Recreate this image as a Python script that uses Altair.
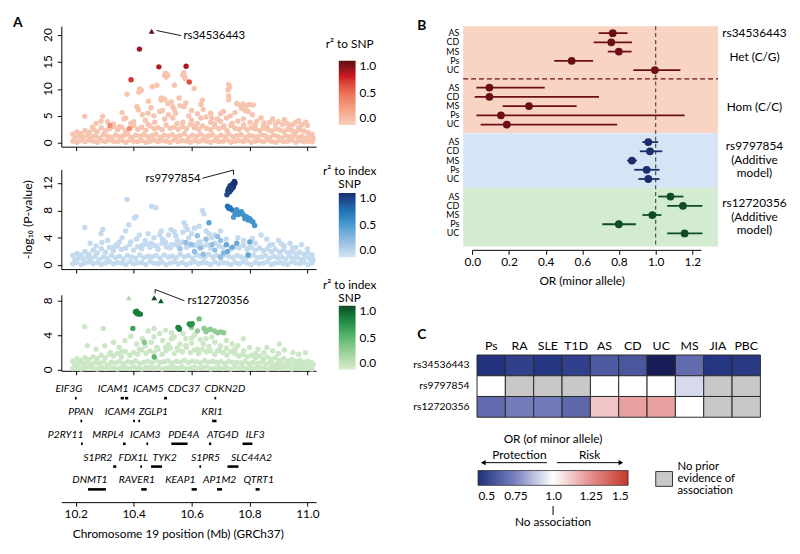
import altair as alt
import pandas as pd

FONT = "Lato"
XDOM = [10.15, 11.03]
XTICKS = [10.2, 10.4, 10.6, 10.8, 11.0]
BG_R2 = 0.06

# ---------------- Panel A: SNP positions (Mb) of the dense low band ----------------
band_x = [10.19, 10.204, 10.218, 10.232, 10.246, 10.26, 10.274, 10.288, 10.302, 10.316,
          10.33, 10.344, 10.358, 10.372, 10.386, 10.4, 10.414, 10.428, 10.442, 10.456,
          10.47, 10.484, 10.498, 10.512, 10.526, 10.54, 10.554, 10.568, 10.582, 10.596,
          10.61, 10.624, 10.638, 10.652, 10.666, 10.68, 10.694, 10.708, 10.722, 10.736,
          10.75, 10.764, 10.778, 10.792, 10.806, 10.82, 10.834, 10.848, 10.862, 10.876,
          10.89, 10.904, 10.918, 10.932, 10.946, 10.96, 10.974, 10.988, 11.002, 11.016]
band_x2 = [10.197, 10.211, 10.225, 10.239, 10.253, 10.267, 10.281, 10.295, 10.309, 10.323,
           10.337, 10.351, 10.365, 10.379, 10.393, 10.407, 10.421, 10.435, 10.449, 10.463,
           10.477, 10.491, 10.505, 10.519, 10.533, 10.547, 10.561, 10.575, 10.589, 10.603,
           10.617, 10.631, 10.645, 10.659, 10.673, 10.687, 10.701, 10.715, 10.729, 10.743,
           10.757, 10.771, 10.785, 10.799, 10.813, 10.827, 10.841, 10.855, 10.869, 10.883,
           10.897, 10.911, 10.925, 10.939, 10.953, 10.967, 10.981, 10.995, 11.009, 11.02]

a1_lo = [0.3, 0.1, 0.4, 0.2, 0.5, 0.3, 0.1, 0.4, 0.2, 0.5, 0.3, 0.2, 0.4, 0.1, 0.5, 0.3, 0.2, 0.4, 0.1, 0.3,
         0.5, 0.2, 0.4, 0.3, 0.1, 0.5, 0.2, 0.4, 0.3, 0.1, 0.4, 0.2, 0.5, 0.3, 0.1, 0.4, 0.2, 0.3, 0.5, 0.1,
         0.3, 0.4, 0.2, 0.5, 0.1, 0.3, 0.4, 0.2, 0.5, 0.3, 0.1, 0.4, 0.2, 0.3, 0.5, 0.1, 0.4, 0.2, 0.3, 0.2]
a1_mid = [0.9, 1.2, 1.0, 1.4, 1.1, 1.3, 0.9, 1.5, 1.2, 1.0, 1.4, 1.1, 1.3, 1.6, 1.0, 1.4, 1.2, 1.5, 1.1, 1.3,
          1.6, 1.0, 1.4, 1.2, 1.5, 1.1, 1.3, 1.7, 1.0, 1.4, 1.2, 1.6, 1.1, 1.3, 1.5, 1.0, 1.4, 1.2, 1.6, 1.1,
          1.3, 1.5, 1.0, 1.4, 1.2, 1.1, 1.5, 1.3, 1.0, 1.4, 1.2, 0.9, 1.3, 1.1, 1.4, 1.0, 1.2, 0.9, 1.1, 0.8]
a1_hi = [1.6, 2.0, 1.7, 2.3, 1.9, 2.5, 2.1, 2.8, 2.2, 2.6, 3.0, 2.4, 2.9, 2.2, 2.7, 3.2, 2.5, 2.9, 2.3, 3.1,
         2.6, 2.8, 2.4, 3.3, 2.7, 2.9, 2.5, 3.0, 2.6, 3.4, 2.8, 2.5, 3.1, 2.7, 2.4, 3.0, 2.6, 2.9, 2.3, 3.2,
         2.7, 2.5, 2.9, 2.4, 2.8, 2.6, 2.3, 2.7, 2.5, 2.2, 2.6, 2.4, 2.1, 2.5, 2.3, 2.0, 2.4, 2.2, 1.9, 1.6]

a2_lo = [0.2, 0.4, 0.1, 0.3, 0.5, 0.2, 0.4, 0.1, 0.3, 0.5, 0.2, 0.4, 0.3, 0.1, 0.5, 0.2, 0.3, 0.4, 0.1, 0.5,
         0.3, 0.2, 0.4, 0.1, 0.3, 0.5, 0.2, 0.4, 0.1, 0.3, 0.5, 0.2, 0.4, 0.3, 0.1, 0.5, 0.2, 0.4, 0.3, 0.1,
         0.4, 0.2, 0.5, 0.3, 0.1, 0.4, 0.2, 0.3, 0.5, 0.1, 0.3, 0.4, 0.2, 0.1, 0.5, 0.3, 0.2, 0.4, 0.1, 0.3]
a2_mid = [0.8, 1.1, 0.9, 1.2, 1.0, 1.3, 0.8, 1.2, 1.0, 1.4, 1.1, 1.3, 0.9, 1.4, 1.2, 1.0, 1.5, 1.1, 1.3, 1.2,
          1.4, 1.0, 1.5, 1.2, 1.3, 1.1, 1.6, 1.2, 1.4, 1.0, 1.5, 1.3, 1.1, 1.6, 1.2, 1.4, 1.0, 1.5, 1.3, 1.1,
          1.4, 1.2, 1.0, 1.3, 1.5, 1.1, 1.2, 1.4, 1.0, 1.3, 1.1, 1.2, 0.9, 1.3, 1.0, 1.1, 0.8, 1.2, 0.9, 0.8]
a2_hi = [1.4, 1.7, 1.5, 2.0, 1.6, 2.2, 1.8, 2.4, 1.9, 2.6, 2.1, 2.8, 2.3, 2.5, 3.0, 2.2, 2.7, 2.4, 3.1, 2.6,
         2.9, 2.3, 3.2, 2.7, 2.5, 3.0, 2.8, 3.4, 2.6, 3.1, 2.9, 3.3, 2.7, 3.0, 2.5, 3.2, 2.8, 2.6, 3.0, 2.4,
         2.7, 2.5, 2.9, 2.3, 2.6, 2.2, 2.5, 2.1, 2.4, 2.0, 2.3, 1.9, 2.2, 1.8, 2.0, 1.7, 1.9, 1.6, 1.8, 1.5]

a3_lo = [0.15, 0.3, 0.1, 0.25, 0.35, 0.2, 0.1, 0.3, 0.15, 0.35, 0.2, 0.1, 0.3, 0.25, 0.15, 0.35, 0.2, 0.1, 0.3, 0.25,
         0.15, 0.35, 0.1, 0.2, 0.3, 0.25, 0.15, 0.35, 0.1, 0.2, 0.3, 0.15, 0.25, 0.35, 0.1, 0.2, 0.3, 0.15, 0.25, 0.1,
         0.35, 0.2, 0.3, 0.1, 0.25, 0.15, 0.35, 0.2, 0.1, 0.3, 0.25, 0.15, 0.2, 0.35, 0.1, 0.3, 0.2, 0.15, 0.25, 0.1]
a3_mid = [0.6, 0.8, 0.7, 0.9, 0.65, 0.85, 0.75, 0.95, 0.6, 0.9, 0.8, 1.0, 0.7, 0.95, 0.85, 1.05, 0.75, 0.9, 1.0, 0.8,
          1.1, 0.85, 0.95, 1.05, 0.8, 1.0, 0.9, 1.1, 0.85, 1.0, 0.95, 0.8, 1.05, 0.9, 1.0, 0.85, 0.95, 0.75, 1.0, 0.85,
          0.9, 0.8, 0.95, 0.7, 0.85, 0.75, 0.9, 0.7, 0.8, 0.65, 0.75, 0.6, 0.7, 0.65, 0.8, 0.6, 0.7, 0.55, 0.65, 0.6]
a3_hi = [1.0, 1.3, 1.1, 1.4, 1.2, 1.5, 1.3, 1.7, 1.4, 1.8, 1.6, 1.9, 1.5, 2.1, 1.7, 2.0, 1.8, 2.3, 1.9, 2.2,
         2.0, 2.4, 1.8, 2.2, 2.5, 1.9, 2.3, 2.1, 2.6, 2.0, 2.3, 1.9, 2.4, 2.1, 2.2, 1.8, 2.3, 2.0, 1.7, 2.1,
         1.9, 1.6, 1.8, 1.5, 1.7, 1.4, 1.6, 1.3, 1.5, 1.2, 1.4, 1.1, 1.3, 1.0, 1.2, 1.0, 1.1, 0.9, 1.0, 0.8]

# scattered low-r2 SNPs above the band: (Mb, -log10 P)
a1_bg = [(10.231, 4.9), (10.293, 4.9), (10.287, 4.0), (10.258, 2.9), (10.372, 4.6), (10.366, 4.4), (10.377, 9.0),
         (10.411, 6.7), (10.416, 6.1), (10.42, 10.0), (10.423, 9.6), (10.418, 9.4), (10.426, 9.8), (10.45, 5.5),
         (10.451, 7.7), (10.464, 10.4), (10.48, 10.7), (10.473, 3.8), (10.495, 8.3), (10.495, 7.9), (10.507, 12.5),
         (10.51, 12.9), (10.513, 12.2), (10.518, 12.6), (10.507, 8.1), (10.507, 4.4), (10.518, 7.3), (10.535, 6.7),
         (10.54, 6.2), (10.545, 5.5), (10.541, 10.7), (10.535, 4.6), (10.557, 8.3), (10.57, 12.6), (10.573, 13.0),
         (10.576, 12.3), (10.578, 11.9), (10.574, 6.7), (10.57, 3.8), (10.609, 10.1), (10.632, 4.6), (10.632, 7.1),
         (10.637, 7.9), (10.61, 3.1), (10.666, 5.5), (10.666, 3.8), (10.689, 4.4), (10.712, 3.1), (10.728, 10.8),
         (10.731, 10.3), (10.726, 9.8), (10.728, 8.7), (10.728, 8.0), (10.734, 5.0), (10.756, 7.3), (10.767, 7.0),
         (10.778, 7.2), (10.79, 6.9), (10.8, 7.1), (10.813, 7.0), (10.772, 6.4), (10.785, 6.0), (10.795, 5.8),
         (10.779, 4.4), (10.802, 3.8), (10.825, 4.0), (10.848, 3.1), (10.87, 3.8), (10.89, 3.5), (10.915, 3.4),
         (10.938, 3.1), (10.96, 3.8), (10.97, 2.8), (10.994, 3.8), (11.0, 3.2), (10.33, 3.5), (10.35, 3.0),
         (10.39, 3.6), (10.44, 4.2), (10.46, 6.5), (10.47, 5.0), (10.49, 5.8), (10.52, 5.2), (10.55, 3.6),
         (10.59, 5.0), (10.6, 6.0), (10.62, 5.4), (10.65, 4.8), (10.68, 3.5), (10.7, 4.0), (10.72, 4.6),
         (10.74, 3.6), (10.76, 4.0), (10.82, 3.4), (10.86, 3.0), (10.9, 3.9), (10.93, 3.6), (10.95, 3.4), (10.98, 3.3),
         (10.4, 3.9), (10.43, 5.2), (10.5, 6.0), (10.53, 7.6), (10.56, 6.9), (10.58, 7.4), (10.6, 4.2), (10.64, 6.2),
         (10.67, 4.6), (10.7, 5.4), (10.75, 5.6), (10.81, 5.2), (10.84, 4.6), (10.88, 4.4), (10.92, 4.3), (10.97, 4.1),
         (10.36, 5.6), (10.31, 3.9), (10.27, 3.6), (10.45, 3.4), (10.62, 3.6), (10.71, 5.8), (10.78, 3.3), (10.85, 3.7)]
a1_hl = [(10.42, 17.4, 0.85), (10.487, 14.1, 0.8), (10.581, 14.2, 0.82), (10.391, 11.7, 0.7),
         (10.592, 11.3, 0.62), (10.318, 3.2, 0.35), (10.385, 2.6, 0.35)]
a1_tri = [(10.462, 20.7, 1.0)]

a2_bg = [(10.377, 9.6), (10.462, 8.6), (10.477, 8.4), (10.408, 7.1), (10.402, 6.9), (10.231, 5.5), (10.293, 5.2),
         (10.372, 5.0), (10.287, 4.6), (10.383, 5.9), (10.637, 8.0), (10.643, 7.5), (10.574, 6.2), (10.58, 5.7),
         (10.586, 5.2), (10.529, 5.2), (10.495, 5.0), (10.45, 4.6), (10.546, 4.3), (10.626, 5.7), (10.66, 4.6),
         (10.25, 3.2), (10.31, 3.6), (10.34, 3.0), (10.36, 4.0), (10.39, 3.4), (10.42, 4.4), (10.44, 3.6),
         (10.47, 4.0), (10.5, 3.8), (10.52, 4.4), (10.55, 3.6), (10.57, 4.8), (10.6, 4.6), (10.61, 5.4),
         (10.65, 5.0), (10.68, 4.4), (10.7, 5.0), (10.76, 4.0), (10.78, 3.6), (10.82, 3.2), (10.84, 4.4),
         (10.86, 3.8), (10.88, 3.0), (10.9, 3.6), (10.92, 2.8), (10.94, 3.2), (10.96, 2.6), (10.98, 3.0),
         (11.0, 2.4), (10.27, 2.8), (10.33, 2.6), (10.48, 2.8), (10.53, 3.0), (10.59, 2.8), (10.75, 2.8), (10.8, 2.6),
         (10.35, 3.4), (10.41, 3.8), (10.46, 3.2), (10.49, 4.4), (10.51, 3.4), (10.54, 4.9), (10.56, 3.2),
         (10.59, 4.0), (10.63, 3.4), (10.67, 4.0), (10.72, 3.8), (10.81, 3.9), (10.87, 2.9), (10.91, 3.1),
         (10.29, 3.3), (10.43, 2.9), (10.52, 2.6), (10.62, 2.9), (10.78, 2.9), (10.95, 2.5)]
a2_hl = [(10.748, 12.24, 1.0), (10.742, 11.9, 0.95), (10.733, 11.6, 0.95), (10.728, 11.2, 0.92), (10.739, 11.2, 0.95),
         (10.725, 10.9, 0.9), (10.736, 11.0, 0.92), (10.722, 10.3, 0.9), (10.746, 11.7, 0.97), (10.75, 12.0, 0.98),
         (10.731, 10.7, 0.9), (10.744, 11.4, 0.95),
         (10.724, 8.6, 0.72), (10.728, 8.3, 0.72), (10.733, 8.4, 0.7), (10.739, 8.1, 0.68),
         (10.756, 8.1, 0.55), (10.761, 7.4, 0.55), (10.767, 7.6, 0.55), (10.772, 7.8, 0.55), (10.778, 7.4, 0.55),
         (10.784, 6.8, 0.55), (10.79, 7.1, 0.55), (10.795, 6.6, 0.55), (10.801, 6.8, 0.55), (10.806, 6.5, 0.55),
         (10.812, 6.3, 0.55), (10.818, 5.8, 0.55), (10.75, 7.5, 0.55), (10.745, 7.0, 0.5),
         (10.66, 6.2, 0.45), (10.756, 3.2, 0.4), (10.795, 1.5, 0.45), (10.724, 2.0, 0.4), (10.801, 3.4, 0.4),
         (10.72, 3.0, 0.4), (10.74, 2.6, 0.4),
         (10.6, 3.0, 0.25), (10.63, 2.5, 0.25), (10.68, 2.2, 0.25), (10.7, 3.6, 0.25), (10.65, 3.8, 0.25),
         (10.62, 4.3, 0.25), (10.58, 3.3, 0.25), (10.71, 1.8, 0.3), (10.69, 4.2, 0.25), (10.64, 1.6, 0.25),
         (10.61, 2.0, 0.25), (10.67, 3.0, 0.25), (10.56, 2.4, 0.2), (10.7, 1.2, 0.25)]
a2_tri = []

a3_bg = [(10.231, 5.0), (10.295, 4.8), (10.39, 3.9), (10.779, 3.6), (10.903, 3.0), (10.993, 2.0), (10.45, 4.5),
         (10.47, 4.8), (10.49, 4.2), (10.51, 4.6), (10.53, 4.3), (10.54, 3.8), (10.57, 4.2), (10.58, 3.6),
         (10.61, 4.0), (10.63, 3.5), (10.67, 3.8), (10.72, 3.4), (10.74, 3.0), (10.76, 2.8), (10.8, 2.6),
         (10.83, 2.4), (10.86, 2.6), (10.88, 2.2), (10.92, 2.3), (10.95, 2.0), (10.97, 1.8), (10.3, 2.8),
         (10.33, 3.2), (10.35, 2.6), (10.37, 3.4), (10.41, 3.0), (10.43, 3.6), (10.46, 3.2), (10.5, 3.4),
         (10.52, 2.9), (10.56, 3.0), (10.6, 3.1), (10.64, 3.0), (10.66, 2.7), (10.7, 2.8), (10.27, 2.4),
         (10.24, 2.8), (10.42, 2.4), (10.48, 2.6), (10.55, 2.5), (10.62, 2.4), (10.69, 2.2), (10.72, 2.5),
         (10.78, 2.2), (10.82, 1.9),
         (10.4, 2.0), (10.44, 2.8), (10.47, 3.8), (10.51, 2.6), (10.53, 3.6), (10.58, 2.8), (10.6, 3.7),
         (10.65, 3.6), (10.68, 3.2), (10.71, 2.0), (10.75, 2.4), (10.85, 2.0), (10.9, 1.9), (10.36, 2.1), (10.32, 2.0)]
a3_hl = [(10.406, 6.7, 0.82), (10.41, 6.8, 0.82), (10.414, 6.6, 0.82), (10.418, 6.5, 0.82), (10.423, 6.45, 0.82),
         (10.412, 6.5, 0.82), (10.553, 4.9, 0.78), (10.558, 4.7, 0.78), (10.556, 4.85, 0.78),
         (10.592, 5.3, 0.72), (10.597, 5.2, 0.72), (10.602, 5.35, 0.72), (10.397, 4.8, 0.62), (10.626, 5.9, 0.42),
         (10.643, 4.8, 0.32), (10.655, 4.6, 0.32), (10.665, 4.7, 0.32), (10.68, 4.5, 0.32), (10.69, 4.3, 0.32),
         (10.7, 4.4, 0.32), (10.711, 4.3, 0.32), (10.65, 4.4, 0.32), (10.437, 3.2, 0.35), (10.471, 1.5, 0.5),
         (10.62, 4.5, 0.28), (10.6, 4.9, 0.28)]
a3_tri = [(10.383, 8.34, 0.18), (10.471, 8.34, 1.0), (10.494, 8.0, 0.95)]

# index SNP label leaders: (Mb, P) -> (Mb, P)
a1_lines = [(10.479, 20.85, 10.564, 19.9)]
a1_label = ("rs34536443", 10.572, 19.9, "left")
a2_lines = [(10.637, 12.7, 10.745, 13.9), (10.745, 13.9, 10.745, 13.2)]
a2_label = ("rs9797854", 10.631, 12.6, "right")
a3_lines = [(10.474, 9.3, 10.474, 8.85), (10.474, 9.3, 10.575, 8.0)]
a3_label = ("rs12720356", 10.586, 8.0, "left")

# ---------------- gene track ----------------
gene_name = ["EIF3G", "ICAM1", "ICAM5", "CDC37", "CDKN2D",
             "PPAN", "ICAM4", "ZGLP1", "KRI1",
             "P2RY11", "MRPL4", "ICAM3", "PDE4A", "ATG4D", "ILF3",
             "S1PR2", "FDX1L", "TYK2", "S1PR5", "SLC44A2",
             "DNMT1", "RAVER1", "KEAP1", "AP1M2", "QTRT1"]
gene_row = [1, 1, 1, 1, 1, 2, 2, 2, 2, 3, 3, 3, 3, 3, 3, 4, 4, 4, 4, 4, 5, 5, 5, 5, 5]
gene_label_mb = [10.176, 10.329, 10.451, 10.573, 10.715,
                 10.217, 10.353, 10.468, 10.671,
                 10.165, 10.312, 10.44, 10.573, 10.708, 10.82,
                 10.276, 10.399, 10.507, 10.648, 10.807,
                 10.249, 10.411, 10.561, 10.697, 10.832]
gene_start = [10.197, 10.355, 10.370, 10.505, 10.679,
              10.216, 10.398, 10.416, 10.671,
              10.218, 10.363, 10.444, 10.53, 10.66, 10.776,
              10.329, 10.423, 10.46, 10.627, 10.724,
              10.242, 10.426, 10.6, 10.688, 10.821]
gene_end = [10.203, 10.366, 10.381, 10.515, 10.685,
            10.222, 10.404, 10.422, 10.686,
            10.224, 10.372, 10.45, 10.586, 10.668, 10.81,
            10.34, 10.429, 10.498, 10.633, 10.762,
            10.304, 10.445, 10.618, 10.705, 10.835]

# ---------------- Panel B: odds ratios ----------------
b_dis = ["AS", "CD", "MS", "Ps", "UC"]
het_or = [0.766, 0.758, 0.799, 0.542, 0.996]
het_lo = [0.689, 0.662, 0.739, 0.447, 0.878]
het_hi = [0.847, 0.871, 0.869, 0.659, 1.135]
hom_or = [0.093, 0.093, 0.309, 0.156, 0.188]
hom_lo = [0.022, 0.013, 0.165, 0.022, 0.045]
hom_hi = [0.395, 0.691, 0.569, 1.158, 0.790]
r979_or = [0.960, 0.969, 0.871, 0.951, 0.960]
r979_lo = [0.928, 0.914, 0.844, 0.883, 0.906]
r979_hi = [1.014, 1.036, 0.898, 1.021, 1.021]
r127_or = [1.081, 1.149, 0.982, 0.799, 1.158]
r127_lo = [1.014, 1.063, 0.928, 0.709, 1.063]
r127_hi = [1.152, 1.255, 1.032, 0.892, 1.255]
b_colors = ["#6a0f17", "#6a0f17", "#1b2d6b", "#0e4c27"]
b_side_text = ["rs34536443", "Het (C/G)", "Hom (C/C)", "rs9797854", "(Additive", "model)",
               "rs12720356", "(Additive", "model)"]
b_side_row = [0.0, 2.64, 7.96, 12.24, 13.76, 15.12, 18.36, 19.89, 21.36]
GAP = 5.9

# ---------------- Panel C: heatmap ----------------
c_snps = ["rs34536443", "rs9797854", "rs12720356"]
c_dis = ["Ps", "RA", "SLE", "T1D", "AS", "CD", "UC", "MS", "JIA", "PBC"]
c_or = [[0.51, 0.55, 0.52, 0.55, 0.63, 0.62, 0.43, 0.68, 0.52, 0.53],
        [1.0, None, None, None, 1.0, 1.0, 1.0, 0.925, None, None],
        [0.68, 0.73, 0.72, 0.67, 1.13, 1.21, 1.21, 1.0, None, None]]
c_scale_dom = [0.4, 0.5, 0.75, 1.0, 1.25, 1.5]
c_scale_rng = ["#15164c", "#1e2f7c", "#7b83c1", "#ffffff", "#e48f8f", "#c4382b"]


def blank():
    return alt.Chart(pd.DataFrame({"a": [0]}))


def spacer(y):
    return blank().mark_rule(opacity=0).encode(x=alt.value(0), y=alt.value(y), y2=alt.value(y + 1))


def snp_frame(bands, bg, hl):
    xs, ps, rs = [], [], []
    for bx_, row in bands:
        xs += bx_
        ps += row
        rs += [BG_R2] * len(row)
    for x, p in bg:
        xs.append(x); ps.append(p); rs.append(BG_R2)
    for x, p, r in hl:
        xs.append(x); ps.append(p); rs.append(r)
    return pd.DataFrame({"pos": xs, "p": ps, "r2": rs}).sort_values("r2", kind="stable")


def assoc_panel(df, tri, ydom, h, yticks, colors, leg_y, leg_title, leg_title_y, lines, label,
                ytitle=None, letter=None, space=None):
    xsc = alt.Scale(domain=XDOM, nice=False, zero=False)
    ysc = alt.Scale(domain=ydom, nice=False, zero=False)
    xax = alt.Axis(values=XTICKS, labels=False, tickSize=4, title=None, grid=False)
    ykw = dict(values=yticks, labels=False, tickSize=4, grid=False)
    if ytitle:
        ykw.update(title=ytitle, titleFontSize=12.5, titleFontWeight="normal", titlePadding=23)
    else:
        ykw.update(title=None)
    yax = alt.Axis(**ykw)
    cs = alt.Scale(domain=[0, 0.5, 0.75, 1], range=colors)
    leg = alt.Legend(orient="none", legendX=281, legendY=leg_y, direction="vertical", title=None,
                     gradientLength=65, gradientThickness=17, values=[0, 0.5, 1], format=".1f",
                     labelFontSize=12, labelOffset=4, gradientStrokeWidth=0)
    X = lambda f: alt.X(f, scale=xsc, axis=xax)
    Y = lambda f: alt.Y(f, scale=ysc, axis=yax)
    layers = []
    if space is not None:
        layers.append(spacer(space))
    layers.append(alt.Chart(df).mark_circle(size=30, opacity=1).encode(
        x=X("pos:Q"), y=Y("p:Q"), color=alt.Color("r2:Q", scale=cs, legend=leg)))
    if tri:
        tdf = pd.DataFrame(tri, columns=["pos", "p", "r2"]).sort_values("r2")
        layers.append(alt.Chart(tdf).mark_point(shape="triangle-up", filled=True, size=34, opacity=1).encode(
            x=X("pos:Q"), y=Y("p:Q"), color=alt.Color("r2:Q", scale=cs, legend=leg)))
    # rotated y tick labels
    layers.append(alt.Chart(pd.DataFrame({"p": yticks})).mark_text(
        angle=270, align="center", baseline="middle", fontSize=12).encode(
        x=alt.value(-13), y=Y("p:Q"), text=alt.Text("p:Q", format="d")))
    ldf = pd.DataFrame(lines, columns=["pos", "p", "pos2", "p2"])
    layers.append(alt.Chart(ldf).mark_rule(color="black", strokeWidth=0.9).encode(
        x=X("pos:Q"), y=Y("p:Q"), x2="pos2:Q", y2="p2:Q"))
    t, tx, ty, al = label
    layers.append(alt.Chart(pd.DataFrame({"pos": [tx], "p": [ty], "t": [t]})).mark_text(
        align=al, baseline="middle", fontSize=11.5).encode(x=X("pos:Q"), y=Y("p:Q"), text="t:N"))
    layers.append(alt.Chart(pd.DataFrame({"t": [leg_title]})).mark_text(
        align="center", baseline="top", fontSize=12, lineBreak="\n", lineHeight=13).encode(
        x=alt.value(292), y=alt.value(leg_title_y), text="t:N"))
    if letter:
        layers.append(alt.Chart(pd.DataFrame({"t": [letter]})).mark_text(
            fontSize=14, fontWeight="bold", align="center", baseline="middle").encode(
            x=alt.value(-44), y=alt.value(-3), text="t:N"))
    return alt.layer(*layers).properties(width=258, height=h)


a1 = assoc_panel(snp_frame([(band_x, a1_lo), (band_x2, a1_mid), (band_x, a1_hi)], a1_bg, a1_hl), a1_tri,
                 [-0.73, 21.65], 122, [0, 5, 10, 15, 20], ["#f8cfbd", "#ec6f55", "#cf1b24", "#5e0f10"], 35,
                 "r² to SNP", 13, a1_lines, a1_label, letter="A")
a2 = assoc_panel(snp_frame([(band_x, a2_lo), (band_x2, a2_mid), (band_x, a2_hi)], a2_bg, a2_hl), a2_tri,
                 [-0.58, 14.0], 101, [0, 4, 8, 12], ["#d2e3f3", "#4b9bd1", "#1f6db3", "#1b2f6e"], 24,
                 "r² to index\nSNP", -3, a2_lines, a2_label, ytitle="-log₁₀ (P-value)", space=-14)
a3 = assoc_panel(snp_frame([(band_x, a3_lo), (band_x2, a3_mid), (band_x, a3_hi)], a3_bg, a3_hl), a3_tri,
                 [-0.11, 8.69], 77, [0, 4, 8], ["#d8edd2", "#5cb86f", "#208f45", "#0b4d23"], 11,
                 "r² to index\nSNP", -15, a3_lines, a3_label, space=-17)

genes = pd.DataFrame({"gene": gene_name, "row": gene_row, "lab": gene_label_mb,
                      "start": gene_start, "end": gene_end})
gsc = alt.Scale(domain=XDOM, nice=False, zero=False)
gys = alt.Scale(domain=[0.19, 5.56], reverse=True, nice=False, zero=False)
gax = alt.Axis(values=XTICKS, format=".1f", tickSize=4, labelFontSize=12, labelPadding=3,
               title="Chromosome 19 position (Mb) (GRCh37)", titleFontSize=12, titleFontWeight="normal",
               titlePadding=9, titleX=118, grid=False)
gene_bars = alt.Chart(genes).mark_rule(strokeWidth=2.6, color="black").encode(
    x=alt.X("start:Q", scale=gsc, axis=gax), x2="end:Q", y=alt.Y("row:Q", scale=gys, axis=None))
gene_text = alt.Chart(genes).mark_text(fontStyle="italic", fontSize=10.5, dy=-9, baseline="middle").encode(
    x=alt.X("lab:Q", scale=gsc, axis=gax), y=alt.Y("row:Q", scale=gys, axis=None), text="gene:N")
gene_chart = alt.layer(gene_bars, gene_text).properties(width=258, height=124)

left = alt.vconcat(a1, a2, a3, gene_chart, spacing=4).resolve_scale(
    x="independent", y="independent", color="independent")

# ---------------- Panel B chart ----------------
rows = []
for g, (o, lo, hi) in enumerate([(het_or, het_lo, het_hi), (hom_or, hom_lo, hom_hi),
                                  (r979_or, r979_lo, r979_hi), (r127_or, r127_lo, r127_hi)]):
    for i, d in enumerate(b_dis):
        rows.append({"dis": d, "row": g * GAP + i, "or": o[i], "lo": lo[i], "hi": hi[i], "col": b_colors[g]})
fdf = pd.DataFrame(rows)
BW, BH = 258, 223
bx = alt.Scale(domain=[-0.05, 1.34], nice=False, zero=False)
by = alt.Scale(domain=[-0.75, 23.1], reverse=True, nice=False, zero=False)
bxax = alt.Axis(values=[0, 0.2, 0.4, 0.6, 0.8, 1.0, 1.2], format=".1f", domain=False, tickSize=4, offset=4,
                labelFontSize=12, title="OR (minor allele)", titleFontSize=12, titleFontWeight="normal",
                titlePadding=9, titleX=120, grid=False)
BX = lambda f: alt.X(f, scale=bx, axis=bxax)
BY = lambda f: alt.Y(f, scale=by, axis=None)
bg_df = pd.DataFrame({"y1": [-0.75, 2 * GAP - 0.95, 3 * GAP - 0.95],
                      "y2": [2 * GAP - 0.95, 3 * GAP - 0.95, 23.1],
                      "c": ["#f9d4c3", "#d5e5f5", "#d3ebd0"]})
f_bg = alt.Chart(bg_df).mark_rect().encode(
    x=alt.value(0), x2=alt.value(BW), y=BY("y1:Q"), y2="y2:Q", color=alt.Color("c:N", scale=None))
f_sep = alt.Chart(pd.DataFrame({"row": [GAP - 0.95]})).mark_rule(
    color="#6a0f17", strokeDash=[5, 3], strokeWidth=1.2).encode(x=alt.value(0), x2=alt.value(BW), y=BY("row:Q"))
f_one = alt.Chart(pd.DataFrame({"or": [1.0]})).mark_rule(
    color="#555555", strokeDash=[4, 3], strokeWidth=1.3).encode(x=BX("or:Q"), y=alt.value(0), y2=alt.value(BH))
f_ci = alt.Chart(fdf).mark_rule(strokeWidth=1.8).encode(
    x=BX("lo:Q"), x2="hi:Q", y=BY("row:Q"), color=alt.Color("col:N", scale=None))
f_pt = alt.Chart(fdf).mark_circle(size=62, opacity=1).encode(
    x=BX("or:Q"), y=BY("row:Q"), color=alt.Color("col:N", scale=None))
f_axis = alt.Chart(pd.DataFrame({"a": [0.0], "b": [1.25]})).mark_rule(color="black", strokeWidth=1).encode(
    x=BX("a:Q"), x2="b:Q", y=alt.value(BH + 4))
f_rowlab = alt.Chart(fdf).mark_text(align="right", baseline="middle", fontSize=9).encode(
    x=alt.value(-4), y=BY("row:Q"), text="dis:N")
f_side = alt.Chart(pd.DataFrame({"row": b_side_row, "t": b_side_text})).mark_text(
    align="center", baseline="middle", fontSize=12).encode(x=alt.value(295), y=BY("row:Q"), text="t:N")
f_letter = alt.Chart(pd.DataFrame({"t": ["B"]})).mark_text(
    fontSize=14, fontWeight="bold", baseline="middle").encode(x=alt.value(-42), y=alt.value(-0.5), text="t:N")
forest = alt.layer(f_bg, f_sep, f_one, f_ci, f_pt, f_axis, f_rowlab, f_side, f_letter).properties(
    width=BW, height=BH)

# ---------------- Panel C chart ----------------
hm_rows = []
for s, vals in zip(c_snps, c_or):
    for d, v in zip(c_dis, vals):
        hm_rows.append({"snp": s, "dis": d, "val": v})
hm = pd.DataFrame(hm_rows)
hx = alt.X("dis:N", sort=c_dis, scale=alt.Scale(range=[14, 301], paddingInner=0, paddingOuter=0),
           axis=alt.Axis(orient="top", title=None, ticks=False, domain=False, labelAngle=0,
                         labelFontSize=12.5, labelPadding=3))
hy = alt.Y("snp:N", sort=c_snps, scale=alt.Scale(paddingInner=0, paddingOuter=0),
           axis=alt.Axis(title=None, ticks=False, domain=False, labelFontSize=10.5, labelPadding=-6))
h_cells = alt.Chart(hm).transform_filter("isValid(datum.val)").mark_rect(
    stroke="#2a2a2a", strokeWidth=1).encode(
    x=hx, y=hy, color=alt.Color("val:Q", scale=alt.Scale(domain=c_scale_dom, range=c_scale_rng,
                                                          interpolate="rgb", nice=False, zero=False,
                                                          clamp=True), legend=None))
h_na = alt.Chart(hm).transform_filter("!isValid(datum.val)").mark_rect(
    stroke="#2a2a2a", strokeWidth=1, fill="#c8c8c8").encode(x=hx, y=hy)
h_letter = alt.Chart(pd.DataFrame({"t": ["C"]})).mark_text(
    fontSize=14, fontWeight="bold", baseline="middle").encode(x=alt.value(-42), y=alt.value(-20), text="t:N")
heat = alt.layer(spacer(-59), h_cells, h_na, h_letter).properties(width=302, height=63)

# ---------------- colour bar legend ----------------
cbx = alt.Scale(domain=[0.5, 1.5], range=[15, 167], nice=False, zero=False)
cbax = alt.Axis(values=[0.5, 0.75, 1.0, 1.25, 1.5],
                labelExpr="datum.value == 1 ? '1.0' : format(datum.value, '.2~f')", domain=False, ticks=False,
                labelPadding=5, labelFontSize=12, title=None, grid=False)
CX = lambda f: alt.X(f, scale=cbx, axis=cbax)
grad = alt.Gradient(gradient="linear", x1=0, x2=1, y1=0, y2=0,
                    stops=[alt.GradientStop(color="#1e2f7c", offset=0),
                           alt.GradientStop(color="#7b83c1", offset=0.25),
                           alt.GradientStop(color="#ffffff", offset=0.5),
                           alt.GradientStop(color="#e48f8f", offset=0.75),
                           alt.GradientStop(color="#c4382b", offset=1)])
cb_bar = alt.Chart(pd.DataFrame({"lo": [0.5], "hi": [1.5]})).mark_rect(
    fill=grad, stroke="#333333", strokeWidth=0.8).encode(x=CX("lo:Q"), x2="hi:Q", y=alt.value(0), y2=alt.value(15))


def cb_text(v, y, t, size=12):
    return alt.Chart(pd.DataFrame({"v": [v], "t": [t]})).mark_text(
        fontSize=size, baseline="middle", align="center").encode(x=CX("v:Q"), y=alt.value(y), text="t:N")


cb_arrows = alt.Chart(pd.DataFrame({"a": [0.959, 1.026], "b": [0.535, 1.452]})).mark_rule(
    color="black", strokeWidth=1).encode(x=CX("a:Q"), x2="b:Q", y=alt.value(-8))
cb_head_l = alt.Chart(pd.DataFrame({"v": [0.535]})).mark_point(
    shape="triangle-left", filled=True, size=30, color="black", opacity=1).encode(x=CX("v:Q"), y=alt.value(-8))
cb_head_r = alt.Chart(pd.DataFrame({"v": [1.452]})).mark_point(
    shape="triangle-right", filled=True, size=30, color="black", opacity=1).encode(x=CX("v:Q"), y=alt.value(-8))
cb_tick = alt.Chart(pd.DataFrame({"v": [1.0]})).mark_rule(color="black", strokeWidth=1).encode(
    x=CX("v:Q"), y=alt.value(36), y2=alt.value(45))
na_box = blank().mark_rect(fill="#c8c8c8", stroke="#333333", strokeWidth=1).encode(
    x=alt.value(195), x2=alt.value(212), y=alt.value(1), y2=alt.value(16))
na_text = alt.Chart(pd.DataFrame({"t": ["No prior\nevidence of\nassociation"]})).mark_text(
    align="left", baseline="top", fontSize=11.5, lineBreak="\n", lineHeight=12.5).encode(
    x=alt.value(217), y=alt.value(-10), text="t:N")
cbar = alt.layer(spacer(-43), cb_bar, cb_arrows, cb_head_l, cb_head_r, cb_tick,
                 cb_text(1.0, -32, "OR (of minor allele)"), cb_text(0.776, -16, "Protection"),
                 cb_text(1.243, -16, "Risk"), cb_text(1.0, 52, "No association"),
                 na_box, na_text).properties(width=300, height=15)

right = alt.vconcat(forest, heat, cbar, spacing=10).resolve_scale(
    x="independent", y="independent", color="independent")

chart = alt.hconcat(left, right, spacing=35).resolve_scale(
    x="independent", y="independent", color="independent").properties(
    padding={"left": 5, "top": 5, "right": 5, "bottom": 5}
).configure(font=FONT).configure_view(stroke=None).configure_axis(
    domainColor="black", tickColor="black", labelColor="black", titleColor="black",
    labelFont=FONT, titleFont=FONT
).configure_legend(labelFont=FONT, labelColor="black").configure_text(font=FONT, color="black")

chart.save("out.html", embed_options={"renderer": "svg", "actions": False})
